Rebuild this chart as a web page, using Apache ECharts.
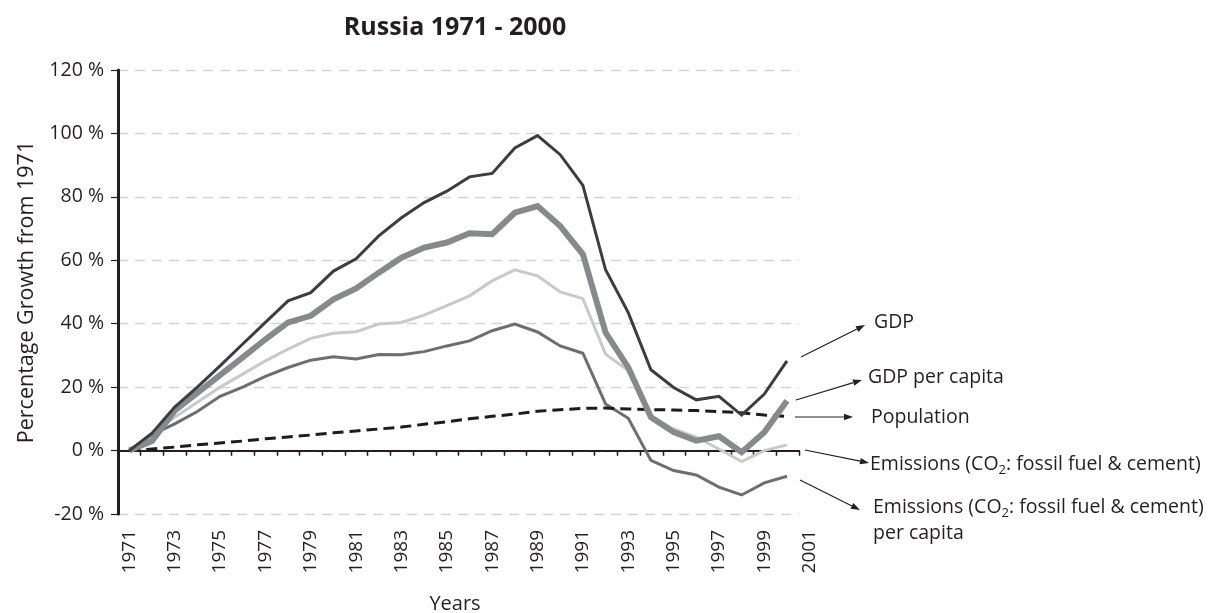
<!DOCTYPE html>
<html>
<head>
<meta charset="utf-8">
<script src="https://cdn.jsdelivr.net/npm/echarts@6/dist/echarts.min.js"></script>
<style>
  html, body { margin: 0; padding: 0; background: #fff; }
  #chart { width: 1208px; height: 613px; }
</style>
</head>
<body>
<div id="chart"></div>
<script>
// years on the category axis (2001 is only a label, no data)
const years = ['1971', '1972', '1973', '1974', '1975', '1976', '1977', '1978', '1979', '1980',
  '1981', '1982', '1983', '1984', '1985', '1986', '1987', '1988', '1989', '1990',
  '1991', '1992', '1993', '1994', '1995', '1996', '1997', '1998', '1999', '2000', '2001']
const dataYears = years.slice(0, 30)

// percentage growth from 1971
const gdp = [0, 5.5, 13.7, 20, 26.7, 33.6, 40.4, 47.2, 49.8, 56.6, 60.5, 67.7, 73.4, 78.2, 81.8,
  86.3, 87.4, 95.4, 99.3, 93.3, 83.6, 57, 43.5, 25.5, 19.9, 16.0, 17.1, 11.2, 17.8, 28.3]
const gdpPerCapita = [0, 3, 12.6, 18.2, 23.8, 29.4, 35.1, 40.4, 42.5, 47.7, 51.1, 56.1, 60.8, 64, 65.6,
  68.5, 68.2, 75, 77.1, 70.8, 61.9, 37.2, 26.2, 10.5, 5.8, 3.1, 4.5, -0.5, 5.8, 15.7]
const population = [0, 0.5, 1.1, 1.8, 2.4, 3.0, 3.7, 4.3, 4.9, 5.6, 6.2, 6.8, 7.4, 8.3, 9.1,
  10.0, 10.8, 11.5, 12.4, 12.9, 13.3, 13.4, 13.1, 12.9, 12.8, 12.6, 12.3, 11.9, 11.2, 10.8]
const emissions = [0, 5.5, 10.5, 15.2, 20, 24.1, 28.3, 32, 35.4, 37, 37.5, 39.9, 40.4, 42.7, 45.7,
  48.8, 53.5, 57, 55.1, 50, 47.9, 30.4, 25.2, 11, 6.8, 4.2, 0.5, -3.5, 0, 1.8]
const emissionsPerCapita = [0, 5, 8.4, 12.3, 17.1, 20, 23.4, 26.2, 28.5, 29.6, 28.9, 30.3, 30.2, 31.2, 33,
  34.6, 37.8, 39.9, 37.4, 33, 30.7, 14.7, 10.2, -3.1, -6.3, -7.7, -11.5, -14, -10.2, -8.1]

const yTicks = { min: -20, max: 120, interval: 20 }

const font = 'Open Sans'
const textColor = '#231f20'

const lineSeries = (name, data, color, width, type) => ({
  name: name,
  type: 'line',
  xAxisIndex: 0,
  yAxisIndex: 0,
  symbol: 'none',
  data: data,
  lineStyle: { color: color, width: width, type: type || 'solid', join: 'miter' },
  z: 3
})

// arrows pointing from the line ends to the labels
const arrow = (x1, y1, x2, y2) => {
  const a = Math.atan2(y2 - y1, x2 - x1)
  const len = 9, half = 3.2
  const bx = x2 - len * Math.cos(a), by = y2 - len * Math.sin(a)
  return [
    { type: 'line', shape: { x1: x1, y1: y1, x2: bx, y2: by }, style: { stroke: textColor, lineWidth: 1.2 } },
    {
      type: 'polygon',
      shape: { points: [[x2, y2], [bx - half * Math.sin(a), by + half * Math.cos(a)], [bx + half * Math.sin(a), by - half * Math.cos(a)]] },
      style: { fill: textColor }
    }
  ]
}

const label = (x, y, text) => ({
  type: 'text', x: x, y: y,
  style: {
    text: text,
    verticalAlign: 'middle',
    rich: {
      a: { fontFamily: font, fontSize: 19.5, fill: textColor },
      s: { fontFamily: font, fontSize: 13, fill: textColor, padding: [13, 0, 0, 0] }
    }
  }
})

// hidden value axis used only to place a tick axis on the zero line
const hiddenY = (index) => ({
  type: 'value',
  gridIndex: 1,
  min: yTicks.min, max: yTicks.max, interval: yTicks.interval,
  axisLine: { show: false },
  axisTick: { show: false },
  axisLabel: { show: false },
  splitLine: { show: index === 1, lineStyle: { color: '#d3d3d3', width: 1.3, type: [10, 7] } }
})

const zeroAxis = (yIndex, inside) => ({
  type: 'category',
  gridIndex: 1,
  data: dataYears,
  boundaryGap: true,
  axisLine: { show: true, onZero: true, onZeroAxisIndex: yIndex, lineStyle: { color: textColor, width: 2 } },
  axisTick: { show: true, alignWithLabel: false, interval: 0, inside: inside, length: 5, lineStyle: { color: textColor, width: 1.3 } },
  axisLabel: { show: false },
  splitLine: { show: false }
})

const myChart = echarts.init(document.getElementById('chart'))

const options = {
  animation: false,
  backgroundColor: '#fff',
  title: {
    text: 'Russia 1971 - 2000',
    left: 450,
    top: 10,
    textAlign: 'center',
    textStyle: { fontFamily: font, fontWeight: 'bold', fontSize: 25, color: textColor }
  },
  grid: [
    { left: 118, right: 387, top: 70, bottom: 99, outerBoundsMode: 'none', containLabel: false },
    { left: 118, right: 409, top: 70, bottom: 99, outerBoundsMode: 'none', containLabel: false }
  ],
  xAxis: [
    {
      type: 'category',
      gridIndex: 0,
      data: years,
      boundaryGap: true,
      axisLine: { show: false, onZero: false },
      axisTick: { show: false },
      axisLabel: {
        interval: 1, rotate: 90, margin: 16,
        fontFamily: font, fontSize: 19, color: textColor
      },
      name: 'Years',
      nameLocation: 'middle',
      nameGap: 80,
      nameTextStyle: { fontFamily: font, fontSize: 20, color: textColor, padding: [0, 29, 0, 0] }
    },
    zeroAxis(1, false),
    zeroAxis(2, true)
  ],
  yAxis: [
    {
      type: 'value',
      gridIndex: 0,
      min: yTicks.min, max: yTicks.max, interval: yTicks.interval,
      axisLine: { show: true, lineStyle: { color: textColor, width: 3 } },
      axisTick: { show: true, length: 7, lineStyle: { color: textColor, width: 1.2 } },
      axisLabel: {
        margin: 14, fontFamily: font, fontSize: 19.5, color: textColor,
        formatter: (v) => v + ' %'
      },
      splitLine: { show: false },
      name: 'Percentage Growth from 1971',
      nameLocation: 'middle',
      nameGap: 80,
      nameTextStyle: { fontFamily: font, fontSize: 21.5, color: textColor }
    },
    hiddenY(1),
    hiddenY(2)
  ],
  series: [
    lineSeries('Emissions (CO2: fossil fuel & cement) per capita', emissionsPerCapita, '#6d6e70', 3),
    lineSeries('Emissions (CO2: fossil fuel & cement)', emissions, '#c9c9c9', 3),
    lineSeries('Population', population, '#1f1a1b', 3, [11, 6]),
    lineSeries('GDP per capita', gdpPerCapita, '#88898b', 6),
    lineSeries('GDP', gdp, '#3d3d3f', 3)
  ],
  graphic: [
    ...arrow(801, 357, 865, 325),
    ...arrow(796, 400, 862, 380),
    ...arrow(795, 417, 853, 417),
    ...arrow(805, 450, 869, 463),
    ...arrow(800, 480, 860, 510),
    label(874, 322, '{a|GDP}'),
    label(868, 377, '{a|GDP per capita}'),
    label(871, 417, '{a|Population}'),
    label(870, 464, '{a|Emissions (CO}{s|2}{a|: fossil fuel & cement)}'),
    label(873, 507, '{a|Emissions (CO}{s|2}{a|: fossil fuel & cement)}'),
    label(873, 533, '{a|per capita}')
  ]
}

myChart.setOption(options)
</script>
</body>
</html>
